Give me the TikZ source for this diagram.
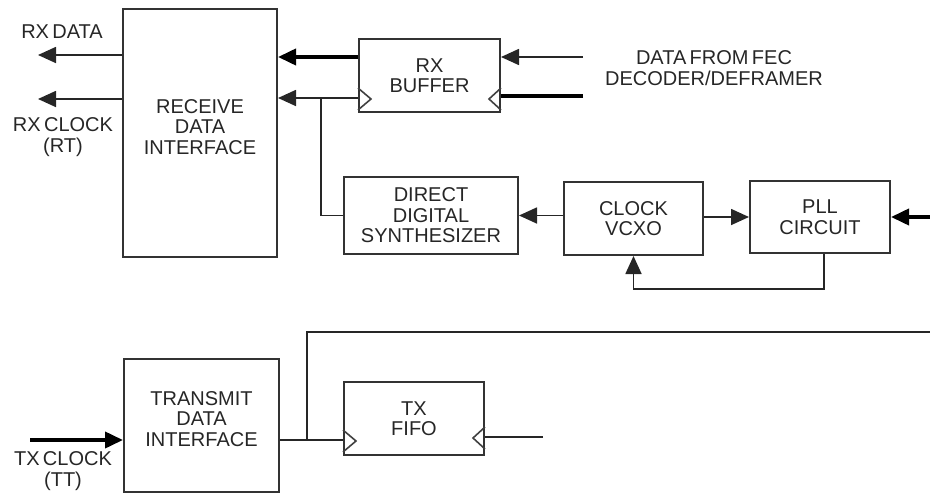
\documentclass[tikz,border=0pt]{standalone}
\usepackage{fontspec}
\setmainfont{Liberation Sans}[WordSpace=0.6]
\usetikzlibrary{arrows.meta}

\tikzset{blk/.style 2 args={draw=black!80, line width=2pt, minimum width=#1, minimum height=#2,
           align=center, inner sep=0pt, font=\fontsize{20}{20.5}\selectfont, text=black!85},
         lbl/.style={font=\fontsize{20}{20.5}\selectfont, text=black!85, align=center, inner sep=0pt},
         con/.style={draw=black!85, line width=1.7pt},
         arr/.style={con, -{Triangle[length=18pt 0 0,width=16pt 0 0]}},
         thk/.style={draw=black, line width=3.8pt},
         thkarr/.style={thk, -{Triangle[length=18pt 0 0,width=16pt 0 0]}},
         clk/.style={draw=black!75, line width=1.6pt, line join=miter}}

\newcommand{\clockmark}[2]{\draw[clk, shift={(#1)}] (0,-11) -- (#2,0) -- (0,11);}

\begin{document}
\begin{tikzpicture}[x=1pt, y=-1pt]
  \useasboundingbox (0,0) rectangle (930,493);

  % blocks
  \node[blk={154pt}{248pt}] (rdi) at (200,133) {};
  \node[lbl] (rditxt) at (200,127) {RECEIVE\\DATA\\INTERFACE};
  \node[blk={141pt}{73pt}] (rxb) at (429.5,75.5) {RX\\BUFFER};
  \node[blk={174pt}{77pt}] (dds) at (431,215.5) {DIRECT\\DIGITAL\\SYNTHESIZER};
  \node[blk={139pt}{73pt}] (vcxo) at (633.5,218.5) {CLOCK\\VCXO};
  \node[blk={140pt}{72pt}] (pll) at (820,217) {PLL\\CIRCUIT};
  \node[blk={155pt}{133pt}] (tdi) at (201.5,425.5) {};
  \node[lbl] (tditxt) at (201.5,419) {TRANSMIT\\DATA\\INTERFACE};
  \node[blk={140pt}{73pt}] (txf) at (414,418.5) {TX\\FIFO};

  % outside labels
  \node[lbl] (rxdatatxt) at (62,32) {RX DATA};
  \node[lbl] (rxclktxt) at (63,137) {RX CLOCK\\(RT)};
  \node[lbl] (fectxt) at (714,68) {DATA FROM FEC\\DECODER/DEFRAMER};
  \node[lbl] (txclktxt) at (63,471) {TX CLOCK\\(TT)};

  % free ends and branch points
  \coordinate (rxdata) at (38,55);
  \coordinate (rxclk) at (38,99);
  \coordinate (fecd) at (583,57);
  \coordinate (fecc) at (583,96);
  \coordinate (rxbr) at (321,98);
  \coordinate (pllin) at (930,217);
  \coordinate (txclk) at (30,440);
  \coordinate (txbr) at (307,440);
  \coordinate (txout) at (930,332);
  \coordinate (txfin) at (543,437);

  % receive side
  \draw[arr] (rdi.west |- rxdata) -- (rxdata);
  \draw[arr] (rdi.west |- rxclk) -- (rxclk);
  \draw[thkarr] (rxb.west |- fecd) -- (rdi.east |- fecd);
  \draw[arr] (rxb.west |- rxbr) -- (rdi.east |- rxbr);
  \draw[con] (rxbr) |- (dds.west);
  \draw[arr] (fecd) -- (rxb.east |- fecd);
  \draw[thk] (fecc) -- (rxb.east |- fecc);
  \draw[arr] (vcxo.west |- dds.east) -- (dds.east);
  \draw[arr] (vcxo.east |- pll.west) -- (pll.west);
  \draw[thkarr] (pllin) -- (pll.east);
  \draw[arr] ([xshift=4pt]pll.south) -- ++(0,35) -| (vcxo.south);
  \clockmark{rxb.west |- 0,99}{13}
  \clockmark{rxb.east |- 0,99}{-12}

  % transmit side
  \draw[thkarr] (txclk) -- (tdi.west |- txclk);
  \draw[con] (tdi.east |- txbr) -- (txf.west |- txbr);
  \draw[con] (txbr) |- (txout);
  \draw[con] (txfin) -- (txf.east |- txfin);
  \clockmark{txf.west |- 0,441}{13}
  \clockmark{txf.east |- 0,438}{-12}
\end{tikzpicture}
\end{document}
